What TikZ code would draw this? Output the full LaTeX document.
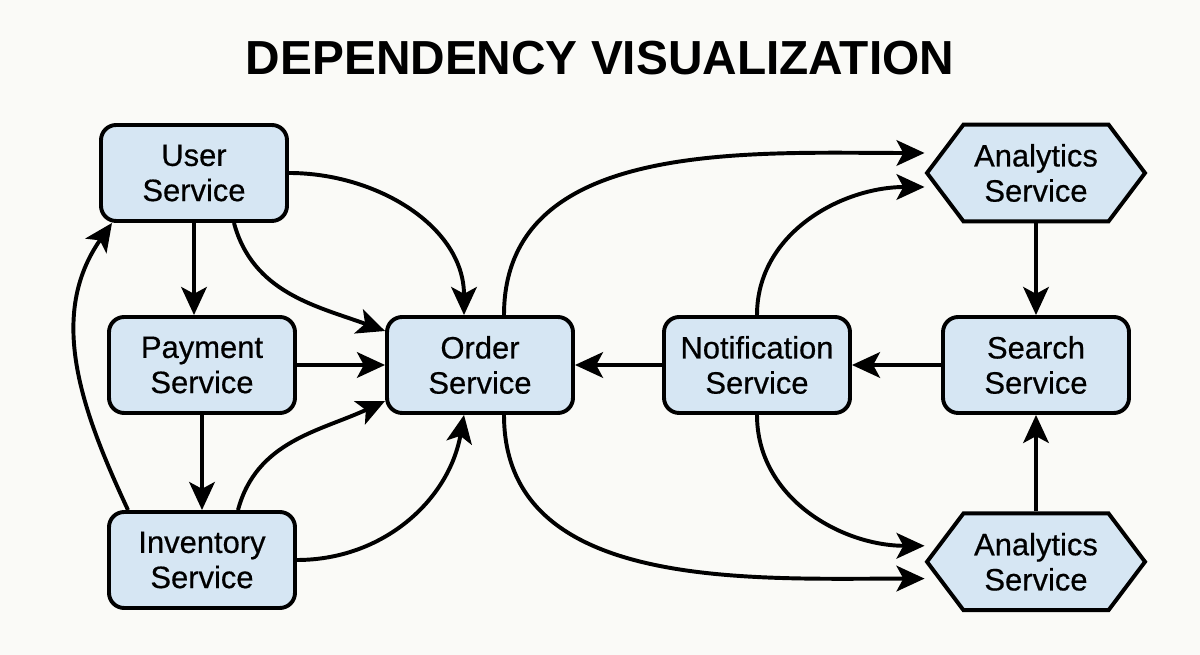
\documentclass[tikz,border=0pt]{standalone}
\usepackage{fontspec}
\setmainfont{Liberation Sans}
\newfontfamily\svcfont[FakeBold=0.5]{Liberation Sans}
\usetikzlibrary{positioning, arrows.meta, shapes.symbols}
\definecolor{svcblue}{RGB}{214,230,243}
\definecolor{paper}{RGB}{250,250,247}
\begin{document}
\begin{tikzpicture}[svc/.style={draw=black,line width=2.8pt,rounded corners=0.38cm,fill=svcblue,align=center,font=\svcfont\fontsize{22}{25}\selectfont,minimum width=4.65cm,minimum height=2.4cm},hexsvc/.style={svc,sharp corners,shape=signal,signal to=west and east,signal pointer angle=106,minimum width=5.45cm,minimum height=2.42cm},link/.style={line width=2.8pt,-{Stealth[length=7mm,width=6.4mm,inset=1.7mm]}},heading/.style={font=\fontsize{34}{40}\selectfont\bfseries}]
\useasboundingbox[fill=paper] (0,0) rectangle (30,16.375);
\node[heading] (title) at (15,14.92) {DEPENDENCY VISUALIZATION};
\node[svc] (user) at (4.85,12.05) {User\\Service};
\node[svc] (payment) at (5.05,7.25) {Payment\\Service};
\node[svc] (inventory) at (5.05,2.375) {Inventory\\Service};
\node[svc] (order) at (12.0,7.25) {Order\\Service};
\node[svc] (notify) at (18.925,7.25) {Notification\\Service};
\node[svc] (search) at (25.9,7.25) {Search\\Service};
\node[hexsvc] (atop) at (25.9,12.05) {Analytics\\Service};
\node[hexsvc] (abot) at (25.9,2.33) {Analytics\\Service};
% left cluster
\draw[link] (user.south) -- (user.south |- payment.north);
\draw[link] (payment.south) -- (inventory.north);
\draw[link] (payment.east) -- (order.west);
\draw[link] (user.east) to[out=0,in=90] ([xshift=-0.4cm]order.north);
\draw[link] ([xshift=1.0cm]user.south) to[out=-75,in=160] ([yshift=0.85cm]order.west);
\draw[link] ([xshift=0.9cm]inventory.north) to[out=75,in=205] ([yshift=-0.9cm]order.west);
\draw[link] (inventory.east) to[out=0,in=-100] ([xshift=-0.4cm]order.south);
\draw[link] ([xshift=-1.85cm]inventory.north) to[out=115,in=235] ([xshift=-2.05cm]user.south);
% right cluster
\draw[link] (notify.west) -- (order.east);
\draw[link] (search.west) -- (notify.east);
\draw[link] (atop.south) -- (search.north);
\draw[link] (abot.north) -- (search.south);
\draw[link] ([xshift=0.6cm]order.north) to[out=90,in=180] ([yshift=0.5cm]atop.west);
\draw[link] (notify.north) to[out=90,in=180] ([yshift=-0.35cm]atop.west);
\draw[link] ([xshift=0.6cm]order.south) to[out=-90,in=180] ([yshift=-0.42cm]abot.west);
\draw[link] (notify.south) to[out=-90,in=180] ([yshift=0.4cm]abot.west);
\end{tikzpicture}
\end{document}
